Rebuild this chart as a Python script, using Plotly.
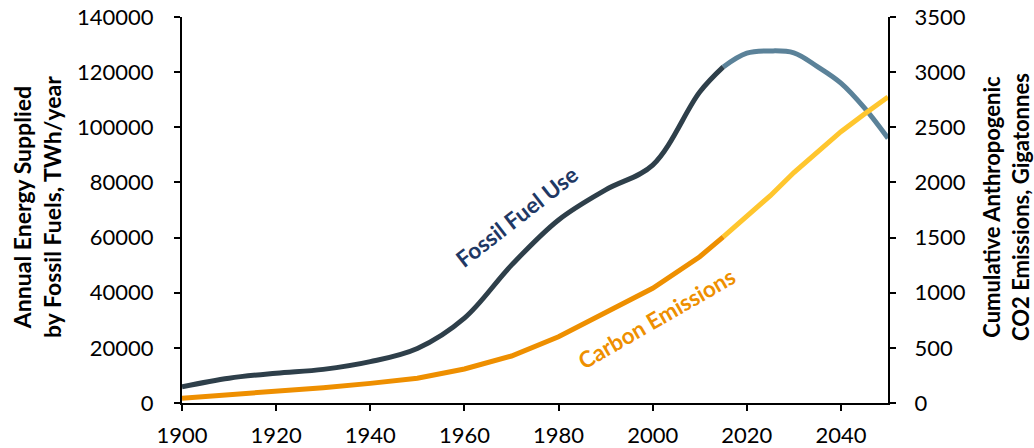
import plotly.graph_objects as go

# fossil fuel use, TWh/year (left axis)
fossil_years = [1900, 1910, 1920, 1930, 1940, 1950, 1960, 1970, 1980, 1990, 2000, 2010, 2015]
fossil_use = [5900, 9000, 10800, 12200, 15000, 19800, 30800, 50000, 66400, 77300, 86300, 112800, 121900]
fossil_proj_years = [2015, 2020, 2025, 2030, 2035, 2040, 2045, 2050]
fossil_proj = [121900, 126900, 127700, 127000, 122000, 116000, 107000, 96000]

# cumulative CO2 emissions, Gt (right axis)
carbon_years = [1900, 1910, 1920, 1930, 1940, 1950, 1960, 1970, 1980, 1990, 2000, 2010, 2015]
carbon = [43, 72, 100, 139, 178, 224, 308, 426, 600, 815, 1040, 1326, 1507]
carbon_proj_years = [2015, 2020, 2025, 2030, 2035, 2040, 2045, 2050]
carbon_proj = [1507, 1700, 1880, 2090, 2280, 2460, 2620, 2775]

x_ticks = [1900, 1920, 1940, 1960, 1980, 2000, 2020, 2040]
left_ticks = list(range(0, 140001, 20000))
right_ticks = list(range(0, 3501, 500))

FONT = "Lato"

fig = go.Figure()
fig.add_trace(go.Scatter(x=fossil_years, y=fossil_use, mode="lines",
                         line=dict(color="#2E3F4A", width=5, shape="spline")))
fig.add_trace(go.Scatter(x=fossil_proj_years, y=fossil_proj, mode="lines",
                         line=dict(color="#5B8299", width=5, shape="spline")))
fig.add_trace(go.Scatter(x=carbon_years, y=carbon, mode="lines", yaxis="y2",
                         line=dict(color="#EE8F00", width=5)))
fig.add_trace(go.Scatter(x=carbon_proj_years, y=carbon_proj, mode="lines", yaxis="y2",
                         line=dict(color="#FFC62E", width=5)))

axis_common = dict(showline=True, linecolor="black", linewidth=2, ticks="outside",
                   ticklen=6, tickwidth=2, tickcolor="black", showgrid=False,
                   zeroline=False, automargin=False, tickformat="d",
                   ticklabeloverflow="allow",
                   tickfont=dict(family=FONT, size=22, color="black"))

fig.update_layout(
    width=1034, height=448,
    margin=dict(l=182, r=146, t=17, b=45),
    paper_bgcolor="white", plot_bgcolor="white",
    showlegend=False,
    xaxis=dict(range=[1900, 2050], tickvals=x_ticks, ticklabelstandoff=6, **axis_common),
    yaxis=dict(range=[0, 140000], tickvals=left_ticks, ticklabelstandoff=16, **axis_common),
    yaxis2=dict(range=[0, 3500], tickvals=right_ticks, overlaying="y", side="right",
                ticklabelstandoff=14, **axis_common),
    annotations=[
        dict(text="Annual Energy Supplied<br>by Fossil Fuels, TWh/year", xref="paper", yref="paper",
             x=(37 - 182) / 706, y=0.508, xanchor="center", yanchor="middle", textangle=-90,
             showarrow=False, font=dict(family=FONT, size=23, color="black", weight="bold")),
        dict(text="Cumulative Anthropogenic<br>CO2 Emissions, Gigatonnes", xref="paper", yref="paper",
             x=(1006 - 182) / 706, y=0.508, xanchor="center", yanchor="middle", textangle=-90,
             showarrow=False, font=dict(family=FONT, size=22, color="black", weight="bold")),
        dict(text="Fossil Fuel Use", x=1971.1, y=67800, textangle=-38, showarrow=False,
             font=dict(family=FONT, size=22.5, color="#1F3864", weight="bold")),
        dict(text="Carbon Emissions", x=2000.8, y=30800, textangle=-30, showarrow=False,
             font=dict(family=FONT, size=22.5, color="#EE8F00", weight="bold")),
    ],
)

# drop the default 8px page margin so the figure fills the window exactly
fig.write_html("out.html", config={"displayModeBar": False},
               post_script="document.body.style.margin='0';")
